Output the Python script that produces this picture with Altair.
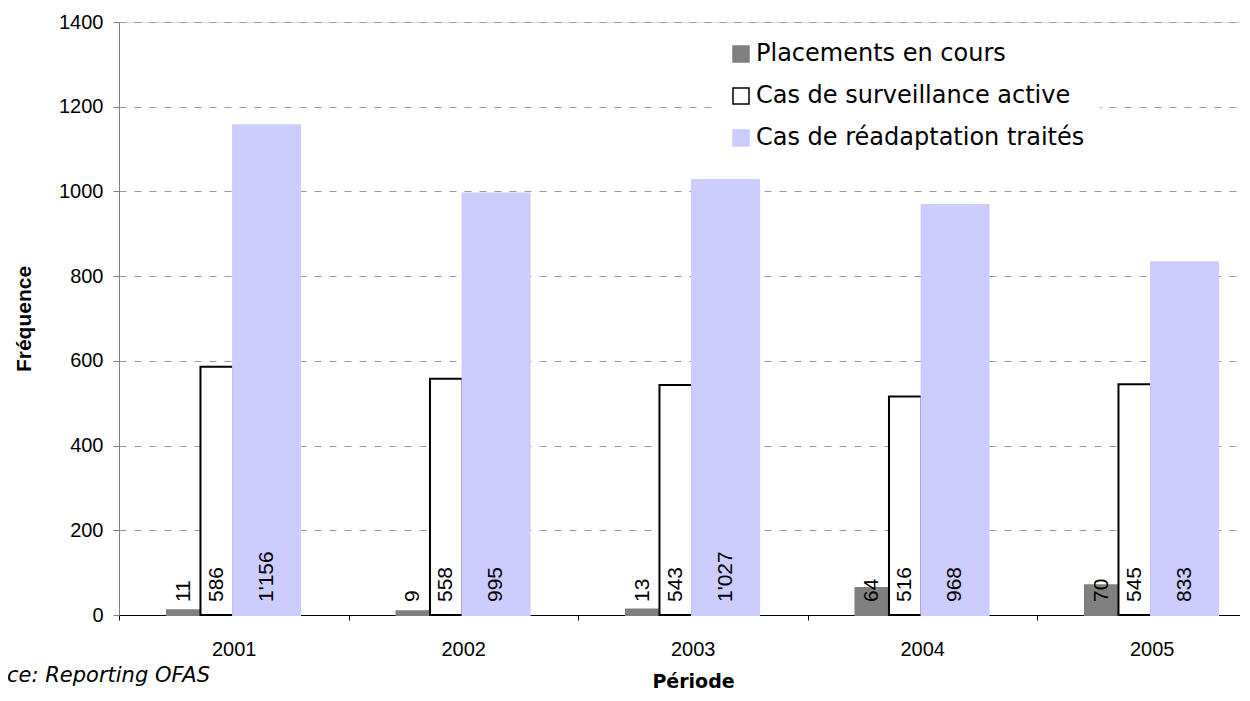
import altair as alt
import pandas as pd

# ---- data ----
years = ["2001", "2002", "2003", "2004", "2005"]
series_names = ["Placements en cours", "Cas de surveillance active", "Cas de réadaptation traités"]
placements = [11, 9, 13, 64, 70]
surveillance = [586, 558, 543, 516, 545]
readaptation = [1156, 995, 1027, 968, 833]
source_note = ["Source: Reporting OFAS"]

# ---- layout (fractions of each year's slot) ----
slot_pos = {
    series_names[0]: (0.209, 0.355),
    series_names[1]: (0.355, 0.497),
    series_names[2]: (0.497, 0.789),
}
fills = ["#808080", "#ffffff", "#ccccff"]
strokes = ["#808080", "#000000", "#ccccff"]

rows = []
for name, vals in zip(series_names, [placements, surveillance, readaptation]):
    a, b = slot_pos[name]
    for i, (yr, v) in enumerate(zip(years, vals)):
        rows.append({
            "year": yr, "series": name, "value": v,
            "label": f"{v:,}".replace(",", "'"),
            "x0": i + a, "x1": i + b, "xm": i + (a + b) / 2,
        })
df = pd.DataFrame(rows)

years_js = "[" + ",".join(f"'{y}'" for y in years) + "]"
x_scale = alt.Scale(domain=[0, len(years)], range=[0, 1147.5], nice=False, zero=False)
x_axis = alt.Axis(
    values=[k / 2 for k in range(0, 2 * len(years) + 1)],
    labelExpr=f"datum.value % 1 === 0 ? '' : {years_js}[floor(datum.value)]",
    tickOpacity={"condition": {"test": "datum.value % 1 !== 0", "value": 0}, "value": 1},
    title="Période", grid=False, domainColor="#000000", tickColor="#000000",
    tickSize=5, labelFont="Liberation Sans", labelFontSize=20, labelColor="#000000",
    labelPadding=19, labelFlush=False, labelOverlap=False,
    titleFont="DejaVu Sans", titleFontSize=19, titleFontWeight="bold",
    titleColor="#000000", titlePadding=13, titleX=574,
)
y_scale = alt.Scale(domain=[0, 1400], nice=False)
y_axis = alt.Axis(
    values=list(range(0, 1401, 200)), format="d", title="Fréquence",
    grid=True, gridDash=[7, 8], gridColor="#9a9a9a", gridWidth=1,
    domainColor="#808080", tickColor="#808080", tickSize=6,
    labelFont="Liberation Sans", labelFontSize=20, labelColor="#000000", labelPadding=10,
    titleFont="Liberation Sans", titleFontSize=21, titleFontWeight="bold",
    titleColor="#000000", titlePadding=24,
)

color_scale_fill = alt.Scale(domain=series_names, range=fills)
color_scale_stroke = alt.Scale(domain=series_names, range=strokes)
legend = alt.Legend(
    title=None, orient="none", legendX=595, legendY=5, padding=15,
    fillColor="#ffffff", symbolType="square", symbolSize=256,
    symbolStrokeWidth=1.5, labelFont="DejaVu Sans", labelFontSize=24,
    labelColor="#000000", labelOffset=3, rowPadding=18, labelLimit=500,
)

bars = alt.Chart(df).mark_bar(strokeWidth=2).encode(
    x=alt.X("x0:Q", scale=x_scale, axis=x_axis),
    x2="x1:Q",
    y=alt.Y("value:Q", scale=y_scale, axis=y_axis),
    y2=alt.Y2(datum=0),
    fill=alt.Fill("series:N", scale=color_scale_fill, legend=legend),
    stroke=alt.Stroke("series:N", scale=color_scale_stroke, legend=legend),
)

labels = alt.Chart(df).mark_text(
    angle=270, align="left", baseline="middle", dx=13,
    font="Liberation Sans", fontSize=21, color="#000000",
).encode(
    x=alt.X("xm:Q", scale=x_scale, axis=x_axis),
    y=alt.Y(datum=0, scale=y_scale, axis=y_axis),
    text="label:N",
)

note = alt.Chart(pd.DataFrame({"note": source_note})).mark_text(
    align="right", baseline="alphabetic", font="DejaVu Sans", fontStyle="italic",
    fontSize=21, color="#000000",
).encode(
    x=alt.value(91), y=alt.value(660), text="note:N",
)

chart = alt.layer(bars, labels, note).properties(
    width=1121, height=593,
    autosize=alt.AutoSizeParams(type="none"),
    padding={"left": 111, "top": 14, "right": 0, "bottom": 76},
).configure_view(stroke=None).configure(background="#ffffff")

chart.save("out.html", embed_options={"renderer": "svg", "actions": False})
